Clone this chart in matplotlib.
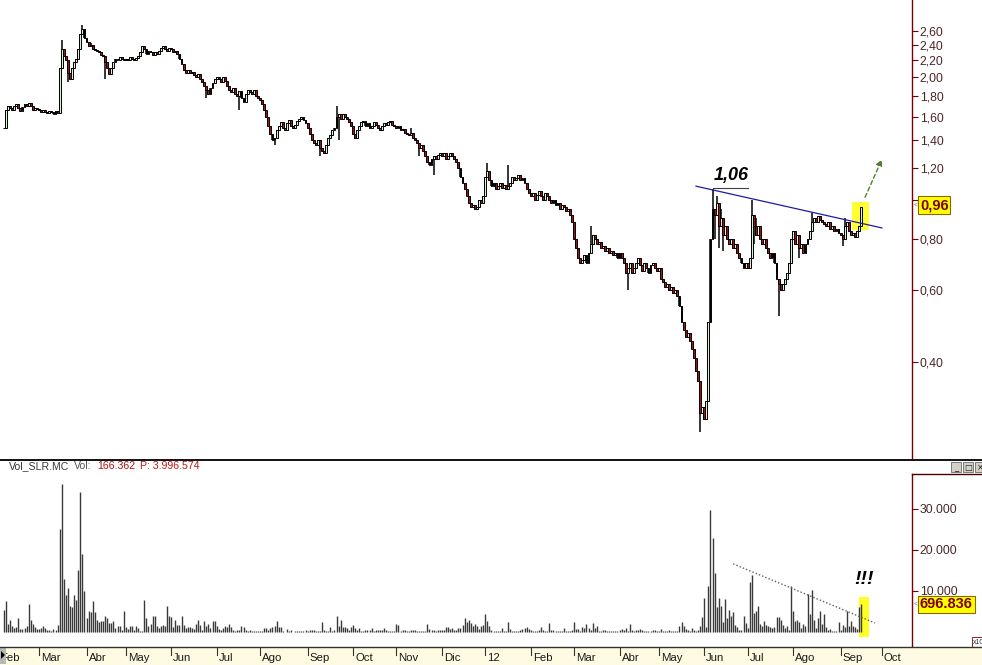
import numpy as np
import pandas as pd
import matplotlib
matplotlib.use('Agg')
import matplotlib.pyplot as plt
from matplotlib.patches import Rectangle, Polygon
from matplotlib.lines import Line2D
from matplotlib.ticker import NullLocator, NullFormatter

plt.rcParams['font.family'] = ['Liberation Sans', 'DejaVu Sans']

# Madrid exchange closed days inside the range
holidays = ['2011-04-22', '2011-04-25', '2011-12-26',
            '2012-04-06', '2012-04-09', '2012-05-01']
first_day = '2011-02-04'
month_names = ['12', 'Feb', 'Mar', 'Abr', 'May', 'Jun', 'Jul', 'Ago', 'Sep', 'Oct', 'Nov', 'Dic']

# SLR.MC daily closes, one row per month (feb 2011 .. 17 sep 2012)
close = [
    1.50, 1.66, 1.70, 1.68, 1.66, 1.70, 1.72, 1.68, 1.65, 1.69, 1.72, 1.70, 1.73, 1.70, 1.66, 1.68, 1.67,
    1.66, 1.64, 1.66, 1.64, 1.63, 1.65, 1.64, 1.62, 1.65, 1.63, 2.10, 2.35, 2.25, 2.20, 2.05, 1.98, 2.10, 2.18, 2.22, 2.35, 2.55, 2.62, 2.50,
    2.44, 2.38, 2.40, 2.35, 2.33, 2.32, 2.30, 2.26, 2.25, 2.18, 2.10, 2.04, 2.10, 2.18, 2.22, 2.20, 2.24, 2.22, 2.20,
    2.22, 2.20, 2.24, 2.22, 2.20, 2.23, 2.25, 2.30, 2.38, 2.34, 2.28, 2.32, 2.30, 2.26, 2.30, 2.28, 2.32, 2.36, 2.38, 2.35, 2.32, 2.36,
    2.34, 2.30, 2.32, 2.28, 2.22, 2.15, 2.08, 2.05, 2.08, 2.05, 2.06, 2.02, 2.00, 2.04, 1.98, 1.95, 1.90, 1.86, 1.82, 1.88, 1.94, 1.98,
    2.00, 1.98, 1.95, 2.00, 1.96, 1.90, 1.86, 1.84, 1.88, 1.82, 1.80, 1.85, 1.78, 1.74, 1.82, 1.86, 1.84, 1.82, 1.86, 1.80, 1.78,
    1.76, 1.72, 1.66, 1.60, 1.52, 1.45, 1.40, 1.42, 1.48, 1.52, 1.55, 1.50, 1.48, 1.54, 1.57, 1.52, 1.50, 1.53, 1.56, 1.58, 1.60, 1.57, 1.54,
    1.50, 1.45, 1.40, 1.38, 1.36, 1.40, 1.34, 1.32, 1.30, 1.36, 1.42, 1.44, 1.48, 1.50, 1.60, 1.62, 1.58, 1.62, 1.60, 1.58, 1.55, 1.52,
    1.45, 1.42, 1.48, 1.52, 1.55, 1.56, 1.52, 1.54, 1.50, 1.52, 1.55, 1.53, 1.50, 1.48, 1.52, 1.54, 1.53, 1.55, 1.56, 1.53, 1.52,
    1.50, 1.52, 1.48, 1.49, 1.46, 1.45, 1.44, 1.46, 1.42, 1.40, 1.38, 1.34, 1.36, 1.32, 1.28, 1.24, 1.22, 1.26, 1.28, 1.26, 1.29, 1.30,
    1.28, 1.30, 1.26, 1.28, 1.30, 1.28, 1.26, 1.24, 1.20, 1.14, 1.10, 1.06, 1.02, 0.98, 0.96, 0.97, 0.95, 0.96, 1.00, 0.98, 1.02,
    1.14, 1.18, 1.12, 1.08, 1.10, 1.06, 1.08, 1.10, 1.07, 1.09, 1.06, 1.08, 1.10, 1.14, 1.12, 1.13, 1.15, 1.12, 1.13, 1.10, 1.06, 1.04,
    1.02, 1.04, 1.00, 1.03, 1.05, 1.02, 1.00, 1.04, 1.02, 1.00, 0.98, 1.00, 0.97, 0.98, 0.95, 0.97, 0.96, 0.94, 0.95, 0.92, 0.88,
    0.80, 0.76, 0.72, 0.70, 0.71, 0.73, 0.70, 0.74, 0.78, 0.82, 0.80, 0.78, 0.79, 0.76, 0.77, 0.75, 0.76, 0.74, 0.75, 0.73, 0.74, 0.72,
    0.74, 0.72, 0.70, 0.66, 0.68, 0.70, 0.66, 0.68, 0.70, 0.72, 0.69, 0.67, 0.70, 0.68, 0.66, 0.69, 0.70, 0.68, 0.67,
    0.68, 0.64, 0.63, 0.61, 0.62, 0.60, 0.61, 0.59, 0.60, 0.58, 0.55, 0.50, 0.48, 0.46, 0.47, 0.45, 0.43, 0.41, 0.38, 0.36, 0.30, 0.31,
    0.29, 0.32, 0.50, 0.80, 0.95, 0.92, 0.98, 0.86, 0.90, 0.82, 0.86, 0.80, 0.78, 0.80, 0.76, 0.78, 0.74, 0.72, 0.70, 0.68, 0.70,
    0.68, 0.72, 0.92, 0.86, 0.82, 0.86, 0.80, 0.78, 0.80, 0.76, 0.74, 0.72, 0.74, 0.70, 0.64, 0.62, 0.60, 0.62, 0.64, 0.66, 0.70, 0.80,
    0.84, 0.78, 0.82, 0.76, 0.78, 0.74, 0.78, 0.80, 0.84, 0.88, 0.90, 0.88, 0.91, 0.89, 0.88, 0.87, 0.86, 0.88, 0.85, 0.86, 0.84, 0.85, 0.83,
    0.82, 0.80, 0.86, 0.88, 0.84, 0.82, 0.83, 0.81, 0.84, 0.86, 0.96,
]

# daily volume, thousands
volume = [
    5.4, 7.6, 2.0, 2.8, 1.4, 1.0, 1.1, 3.3, 0.8, 0.7, 1.0, 1.5, 6.7, 2.8, 2.0, 1.1, 0.7,
    0.7, 1.0, 1.4, 1.0, 0.5, 0.5, 0.3, 0.8, 0.6, 1.8, 25.0, 36.0, 13.0, 9.1, 10.6, 6.4, 6.1, 8.9, 7.9, 15.2, 34.0, 18.9, 10.1,
    3.3, 5.2, 4.9, 7.6, 4.8, 2.8, 2.4, 2.6, 2.6, 4.0, 3.3, 2.1, 2.2, 2.6, 0.9, 1.5, 1.5, 0.6, 5.0,
    1.1, 0.7, 1.4, 1.5, 0.6, 1.5, 1.0, 0.3, 0.2, 7.9, 3.4, 1.4, 2.0, 4.0, 4.0, 1.5, 1.0, 1.4, 1.8, 1.5, 6.4, 4.0,
    3.7, 1.1, 2.8, 1.8, 1.8, 4.0, 1.8, 1.0, 1.1, 1.3, 1.0, 0.7, 2.0, 2.8, 1.8, 0.6, 2.6, 1.5, 2.0, 1.0, 2.6, 2.6,
    1.5, 0.7, 0.6, 1.0, 1.5, 1.3, 2.0, 1.1, 0.5, 0.3, 0.6, 0.5, 1.5, 1.1, 0.5, 0.3, 0.5, 0.3, 0.2, 0.3, 0.3,
    0.3, 0.3, 1.0, 1.0, 0.5, 1.0, 1.3, 1.5, 2.6, 1.1, 1.3, 0.3, 0.1, 0.8, 0.3, 0.5, 0.1, 0.2, 0.2, 0.2, 0.2, 0.3, 0.5,
    0.3, 0.6, 0.6, 0.6, 0.2, 0.2, 0.2, 2.4, 0.6, 0.2, 0.2, 1.2, 0.3, 0.6, 4.0, 1.5, 2.8, 1.2, 1.2, 0.9, 0.5, 1.2,
    1.8, 0.9, 0.5, 1.0, 0.2, 0.3, 0.6, 0.6, 0.5, 0.9, 0.3, 0.5, 0.5, 0.5, 0.6, 1.0, 0.6, 0.2, 0.3, 0.3, 0.3,
    2.0, 1.8, 0.3, 0.5, 0.5, 0.2, 0.3, 0.5, 0.5, 0.5, 0.3, 0.3, 0.2, 0.2, 0.2, 2.0, 0.8, 0.5, 0.6, 0.2, 0.5, 0.6,
    0.5, 0.5, 1.2, 1.2, 0.7, 1.0, 0.5, 0.5, 1.0, 1.0, 1.6, 3.3, 2.4, 2.8, 2.2, 1.4, 2.0, 1.4, 0.8, 1.4, 1.6,
    4.5, 2.6, 1.5, 0.6, 0.3, 0.3, 0.3, 0.2, 1.0, 0.3, 0.3, 2.5, 0.7, 0.3, 0.3, 0.2, 0.2, 0.6, 0.7, 1.0, 1.3, 0.7,
    0.5, 0.3, 0.3, 0.3, 0.6, 1.1, 0.5, 0.3, 0.3, 2.3, 0.6, 0.5, 0.3, 0.2, 0.2, 0.2, 1.0, 0.2, 0.3, 0.3, 0.5,
    2.5, 0.8, 0.7, 0.2, 1.3, 1.0, 2.0, 1.0, 0.6, 2.2, 1.0, 1.5, 0.2, 0.2, 0.6, 0.5, 0.2, 0.3, 0.3, 0.3, 0.2, 0.3,
    0.5, 0.8, 0.5, 1.0, 0.3, 2.0, 0.5, 0.2, 0.5, 0.5, 0.8, 0.5, 0.2, 0.2, 0.3, 0.2, 0.5, 0.5, 0.2,
    0.2, 0.8, 0.2, 0.2, 0.3, 0.5, 0.3, 0.2, 0.2, 0.2, 1.4, 2.5, 1.5, 0.8, 0.5, 0.2, 1.0, 0.5, 0.3, 0.6, 1.4, 3.7,
    8.3, 1.2, 11.1, 29.8, 22.9, 14.4, 6.0, 8.3, 6.3, 2.4, 8.0, 3.4, 5.4, 3.8, 4.8, 1.8, 1.1, 0.6, 0.6, 4.0, 2.2,
    1.0, 12.2, 14.0, 4.6, 5.0, 6.3, 2.0, 1.4, 2.6, 1.8, 1.4, 1.1, 1.0, 1.1, 3.7, 3.7, 3.0, 1.8, 1.0, 1.4, 0.6, 11.1,
    5.2, 2.6, 2.8, 2.5, 1.0, 2.0, 1.4, 9.3, 4.5, 10.3, 3.0, 1.0, 3.4, 5.0, 2.0, 4.5, 1.1, 0.5, 0.8, 0.3, 0.3, 0.3, 2.4,
    0.6, 1.8, 1.1, 5.0, 1.4, 2.6, 1.4, 1.1, 0.8, 6.0, 6.8,
]

# intraday extremes that stick out of the bodies
spike_high = {'2011-03-16': 2.47, '2011-03-30': 2.69, '2011-04-05': 2.42, '2011-09-21': 1.70,
              '2011-11-10': 1.50, '2012-01-03': 1.23, '2012-01-17': 1.22, '2012-03-13': 0.86,
              '2012-06-07': 1.06, '2012-06-11': 1.02, '2012-06-13': 0.95, '2012-07-04': 1.00,
              '2012-07-06': 0.90, '2012-08-14': 0.93, '2012-09-05': 0.90}
spike_low = {'2011-03-21': 1.95, '2011-04-14': 1.98, '2011-06-24': 1.78, '2011-07-18': 1.66,
             '2011-08-10': 1.36, '2011-09-09': 1.28, '2011-09-22': 1.40, '2011-11-16': 1.28,
             '2011-11-25': 1.15, '2012-04-10': 0.60, '2012-05-30': 0.27, '2012-06-08': 0.80,
             '2012-06-12': 0.76, '2012-06-14': 0.75, '2012-07-05': 0.78, '2012-07-23': 0.52,
             '2012-08-06': 0.72, '2012-09-04': 0.77}

price_ticks = [0.40, 0.60, 0.80, 1.00, 1.20, 1.40, 1.60, 1.80, 2.00, 2.20, 2.40, 2.60]
vol_ticks = [10, 20, 30]
last_price = '0,96'
last_volume = '696.836'

# ---------------------------------------------------------------------------

dates = pd.bdate_range(first_day, periods=len(close), freq='C', holidays=holidays)
cal = pd.bdate_range('2011-02-01', '2012-10-31', freq='C', holidays=holidays)
shift = cal.get_loc(pd.Timestamp(first_day))


def xpos(d):
    return cal.get_loc(pd.Timestamp(d)) - shift


x = np.arange(len(close))
c = np.array(close)
o = np.r_[c[0], c[:-1]]
hi = np.maximum(o, c)
lo = np.minimum(o, c)
for d, v in spike_high.items():
    hi[xpos(d)] = max(hi[xpos(d)], v)
for d, v in spike_low.items():
    lo[xpos(d)] = min(lo[xpos(d)], v)
v = np.array(volume)

W, H = 982, 665
fig = plt.figure(figsize=(W / 100, H / 100), dpi=100)
fig.patch.set_facecolor('white')


def box(l, t, r, b):
    return [l / W, 1 - b / H, (r - l) / W, (b - t) / H]


bar_px, x0_px = 2.066, 3.88
ax_p = fig.add_axes(box(0, 0, 912, 459))
ax_v = fig.add_axes(box(0, 474, 912, 647))
ax_d = fig.add_axes(box(0, 647, 982, 665))
for a in (ax_p, ax_v):
    a.set_xlim(-x0_px / bar_px, (912 - x0_px) / bar_px)
ax_d.set_xlim(-x0_px / bar_px, (982 - x0_px) / bar_px)

axis_red = '#7a0000'
label_col = '#4d2626'

# ---- price panel
up = c >= o
ax_p.vlines(x, lo, hi, color='black', lw=1.1, zorder=3)
ax_p.bar(x, np.where(c == o, 0.002, c - o), bottom=o, width=0.9,
         color=np.where(up, '#d9f3d9', '#a81010'), edgecolor='black', linewidth=0.7, zorder=4)
ax_p.set_yscale('log')
ax_p.set_ylim(0.2312, 3.092)
ax_p.set_yticks(price_ticks)
ax_p.set_yticklabels([f'{t:.2f}'.replace('.', ',') for t in price_ticks])
ax_p.yaxis.set_minor_locator(NullLocator())
ax_p.yaxis.set_minor_formatter(NullFormatter())
ax_p.yaxis.tick_right()
ax_p.set_xticks([])

# resistance line and breakout marks
ax_p.plot([xpos('2012-05-28'), xpos('2012-10-01')], [1.08, 0.853], color='#1c1ca8', lw=0.9, zorder=5)
ax_p.plot([xpos('2012-06-07'), xpos('2012-07-02')], [1.069, 1.069], color='#404040', lw=0.8, zorder=5)
ax_p.text(xpos('2012-06-20'), 1.144, '1,06', fontsize=13, fontweight='bold', fontstyle='italic',
          ha='center', va='center', color='black', zorder=6)
ax_p.add_patch(Rectangle((xpos('2012-09-10') + 0.5, 0.843), 8.2, 0.988 - 0.843,
                         facecolor='#ffff00', alpha=0.8, edgecolor='none', zorder=2))
ax_p.annotate('', xy=(xpos('2012-10-01') + 0.5, 1.274), xytext=(xpos('2012-09-18') + 0.3, 1.0),
              arrowprops=dict(arrowstyle='-|>', linestyle=(0, (3, 2)), color='#4f7f2f',
                              lw=1.0, mutation_scale=9), zorder=6)

# ---- volume panel
ax_v.vlines(x, 0, v, color='#3a3a3a', lw=1.0, zorder=3)
ax_v.set_ylim(-3.66, 38.5)
ax_v.set_yticks(vol_ticks)
ax_v.set_yticklabels([f'{t}.000' for t in vol_ticks])
ax_v.yaxis.tick_right()
ax_v.set_xticks([])
ax_v.plot([xpos('2012-06-21'), xpos('2012-09-25') + 0.6], [16.6, 2.2], color='#606060',
          lw=1.0, ls=(0, (1, 1.5)), zorder=4)
ax_v.add_patch(Rectangle((xpos('2012-09-14') - 0.3, -1.2), 5.0, 9.7,
                         facecolor='#ffff00', alpha=0.85, edgecolor='none', zorder=2))
ax_v.text(xpos('2012-09-18') + 0.3, 12.7, '!!!', fontsize=14, fontweight='bold', fontstyle='italic',
          ha='center', va='center', color='black', zorder=6)

for a in (ax_p, ax_v):
    for s in ('top', 'left', 'bottom'):
        a.spines[s].set_visible(False)
    a.spines['right'].set_color(axis_red)
    a.spines['right'].set_linewidth(1.0)
    a.tick_params(axis='y', direction='out', length=4, width=0.8, color=axis_red,
                  labelcolor=label_col, labelsize=8.8, pad=1.5)
    a.patch.set_alpha(0)

# ---- date strip
ax_d.set_facecolor('#fffbe2')
ax_d.set_ylim(0, 1)
ax_d.set_xticks([])
ax_d.set_yticks([])
for s in ax_d.spines.values():
    s.set_visible(False)
firsts = pd.Series(np.arange(len(cal)) - shift, index=cal).groupby([cal.year, cal.month]).first()
for (yr, mo), p in firsts.items():
    ax_d.plot([p, p], [0.55, 1.0], color='#333333', lw=0.8)
    ax_d.text(p + 1.0, 0.38, month_names[mo - 1], fontsize=8.2, color='#1a1a1a', va='center', ha='left')


# ---- frame lines and window decoration
def hline(y, x1, x2, color, lw):
    fig.add_artist(Line2D([x1 / W, x2 / W], [1 - y / H, 1 - y / H], color=color, lw=lw))


hline(459.5, 0, W, '#111111', 1.4)
hline(647, 0, W, '#333333', 1.0)
hline(474, 912, W, '#4a0000', 1.0)

# volume panel header
rend = fig.canvas.get_renderer()
xt = 9
for txt, col in [('Vol_SLR.MC', '#3a3a3a'), ('Vol:', '#555555'), ('166.362', '#b01212'),
                 ('P: 3.996.574', '#c01818')]:
    t = fig.text(xt / W, 1 - 466 / H, txt, fontsize=7.6, color=col, va='center', ha='left')
    xt = t.get_window_extent(rend).x1 + 5

for bx, glyph in [(951, '_'), (963, '□'), (975, '×')]:
    fig.add_artist(Rectangle((bx / W, 1 - 472 / H), 10 / W, 10 / H, facecolor='#d4d0c8',
                             edgecolor='#6a6a6a', lw=0.6))
    fig.text((bx + 5) / W, 1 - 467.5 / H, glyph, fontsize=6, ha='center', va='center',
             color='#202020', family='DejaVu Sans')

fig.add_artist(Rectangle((0, 1 - 664 / H), 6 / W, 16 / H, facecolor='#b8b8b8', edgecolor='none'))
fig.add_artist(Polygon([[1 / W, 1 - 651 / H], [1 / W, 1 - 659 / H], [5 / W, 1 - 655 / H]],
                       closed=True, facecolor='black', edgecolor='none'))
fig.add_artist(Rectangle((972 / W, 1 - 647 / H), 12 / W, 10 / H, facecolor='white',
                         edgecolor=axis_red, lw=0.6))
fig.text(973 / W, 1 - 642 / H, 'x10', fontsize=5, color='#333333', va='center', ha='left')

# last value tags
for ypx, txt in [(205, last_price), (604.5, last_volume)]:
    fig.text(913.5 / W, 1 - ypx / H, '<', fontsize=5, color='#777777', va='center', ha='left')
    fig.text(920 / W, 1 - ypx / H, txt, fontsize=10.5, fontweight='bold', color='#800000',
             va='center', ha='left',
             bbox=dict(boxstyle='square,pad=0.12', facecolor='#ffff00', edgecolor='#8a6a00', lw=0.8))

fig.savefig('out.png', dpi=100, facecolor='white')
